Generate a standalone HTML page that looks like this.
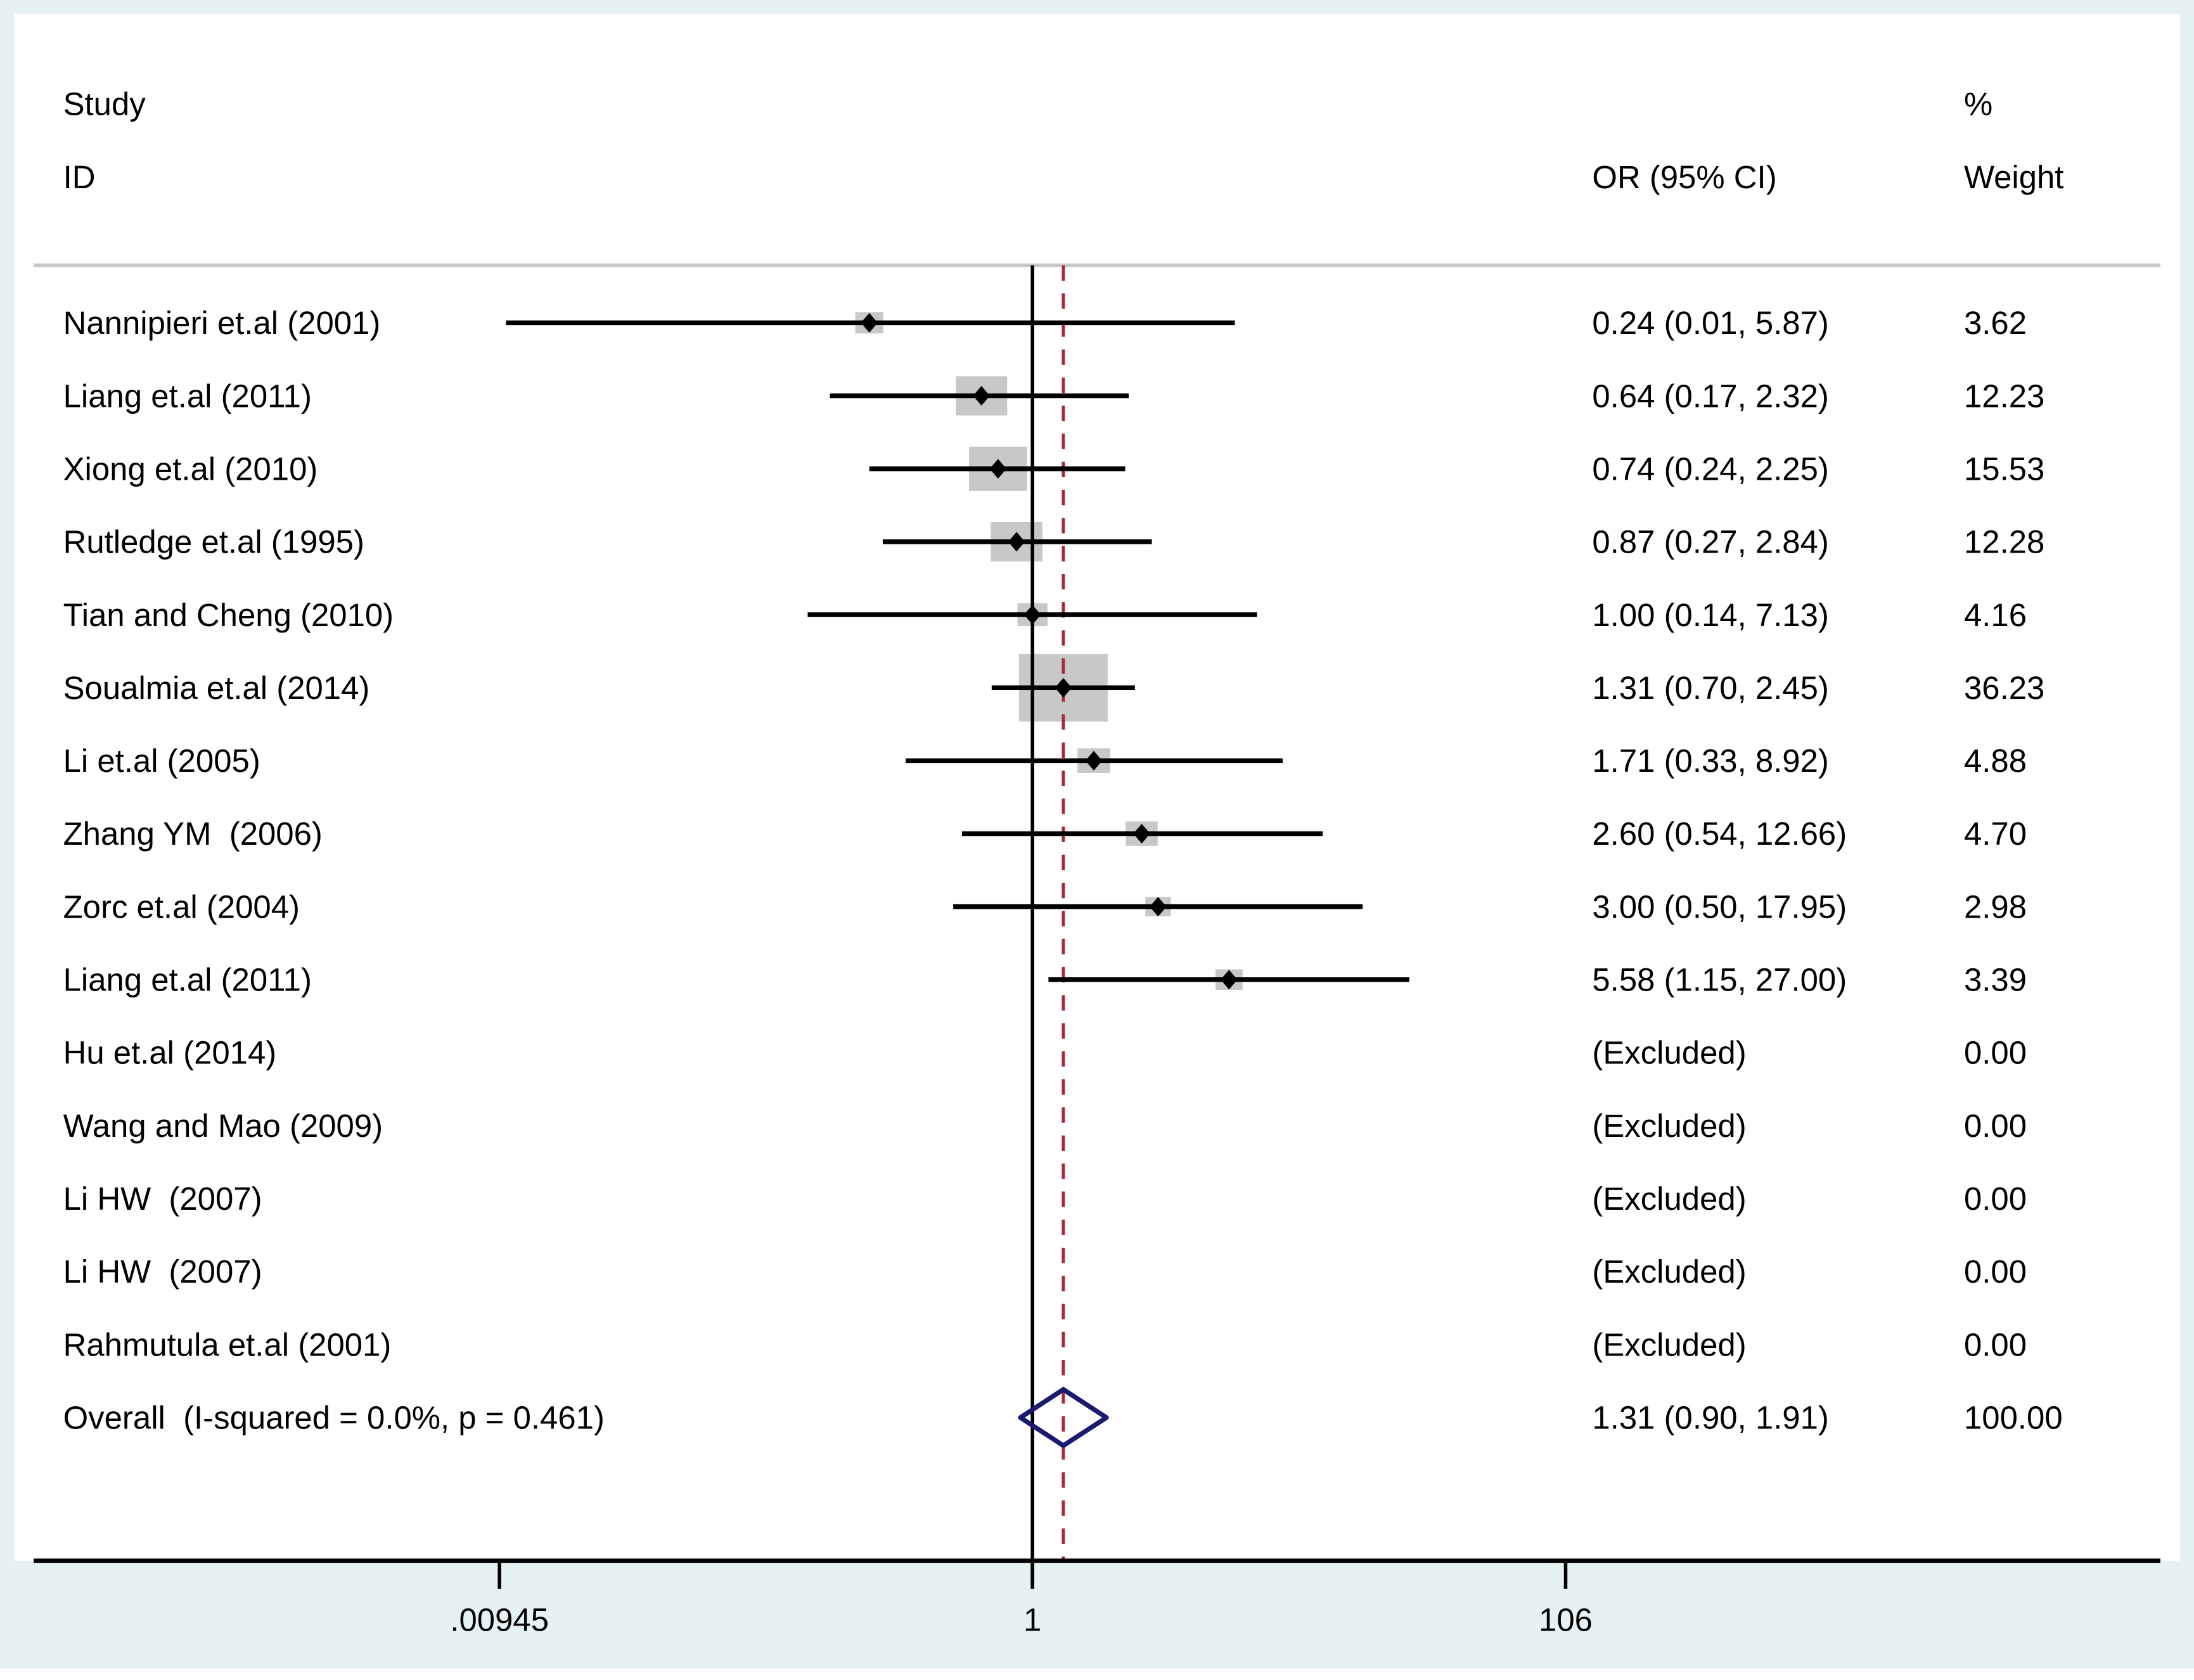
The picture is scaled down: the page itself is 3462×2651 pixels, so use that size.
<!DOCTYPE html>
<html><head><meta charset="utf-8"><style>
html,body{margin:0;padding:0;background:#e6f2f2;}
svg{display:block;}
text{font-family:"Liberation Sans",Arial,sans-serif;font-size:23px;fill:#000;white-space:pre;}
</style></head><body>
<svg id="chart" width="3462" height="2651" viewBox="0 0 1564 1197" preserveAspectRatio="none" xmlns="http://www.w3.org/2000/svg" xml:space="preserve">
<rect x="0" y="0" width="1564" height="1197" fill="#e6f2f2"/>
<rect x="0" y="1189" width="1564" height="8" fill="#fff"/>
<rect x="10" y="10" width="1544" height="1102" fill="#fff"/>
<line x1="24" y1="189" x2="1540" y2="189" stroke="#c8c8c8" stroke-width="2.5"/>
<text x="45" y="82">Study</text>
<text x="45" y="134">ID</text>
<text x="1135" y="134">OR (95% CI)</text>
<text x="1400" y="82">%</text>
<text x="1400" y="134">Weight</text>
<g id="marks"></g>
</svg>
<script>
const studies=["Nannipieri et.al (2001)","Liang et.al (2011)","Xiong et.al (2010)","Rutledge et.al (1995)","Tian and Cheng (2010)","Soualmia et.al (2014)","Li et.al (2005)","Zhang YM  (2006)","Zorc et.al (2004)","Liang et.al (2011)","Hu et.al (2014)","Wang and Mao (2009)","Li HW  (2007)","Li HW  (2007)","Rahmutula et.al (2001)"];
const orVals=[0.24,0.64,0.74,0.87,1.00,1.31,1.71,2.60,3.00,5.58,null,null,null,null,null];
const lowVals=[0.01,0.17,0.24,0.27,0.14,0.70,0.33,0.54,0.50,1.15,null,null,null,null,null];
const highVals=[5.87,2.32,2.25,2.84,7.13,2.45,8.92,12.66,17.95,27.00,null,null,null,null,null];
const weights=[3.62,12.23,15.53,12.28,4.16,36.23,4.88,4.70,2.98,3.39,0,0,0,0,0];
const overall=[1.31,0.90,1.91];
const overallLabel="Overall  (I-squared = 0.0%, p = 0.461)";
const tickVals=[0.00945,1,106];
const tickLabels=[".00945","1","106"];

const NS="http://www.w3.org/2000/svg";
const g=document.getElementById('marks');
const xs=v=>736+81.5*Math.log(v);
const ys=i=>230+52*i;
function mk(tag,attrs,txt){const e=document.createElementNS(NS,tag);for(const k in attrs)e.setAttribute(k,attrs[k]);if(txt!==undefined)e.textContent=txt;g.appendChild(e);return e;}
const fmt=v=>v.toFixed(2);

studies.forEach((s,i)=>{
  const y=ys(i);
  let t=mk('text',{x:45,y:y+8},s);
  
  
  const ci=orVals[i]==null?"(Excluded)":fmt(orVals[i])+" ("+fmt(lowVals[i])+", "+fmt(highVals[i])+")";
  t=mk('text',{x:1135,y:y+8},ci);
  
  
  t=mk('text',{x:1400,y:y+8},fmt(weights[i]));
  
  
  if(orVals[i]!=null){
    const w=10.5*Math.sqrt(weights[i]),h=8*Math.sqrt(weights[i]);
    const b=mk('rect',{x:xs(orVals[i])-w/2,y:y-h/2,width:w,height:h,fill:'#c8c8c8'});
    
    
  }
});
let l=mk('line',{x1:736,y1:189,x2:736,y2:1132,stroke:'#000','stroke-width':2.5});


l=mk('line',{x1:xs(overall[0]),y1:189,x2:xs(overall[0]),y2:1112,stroke:'#a52a35','stroke-width':2.2,'stroke-dasharray':'11 9'});


studies.forEach((s,i)=>{
  if(orVals[i]==null)return;
  const y=ys(i);
  const c=mk('line',{x1:xs(lowVals[i]),y1:y,x2:xs(highVals[i]),y2:y,stroke:'#000','stroke-width':3.4});
  
  
  const x=xs(orVals[i]);
  const d=mk('polygon',{points:`${x},${y-7} ${x+6},${y} ${x},${y+7} ${x-6},${y}`,fill:'#000'});
  
  
});
const oy=ys(15);
let t=mk('text',{x:45,y:oy+8},overallLabel);


t=mk('text',{x:1135,y:oy+8},fmt(overall[0])+" ("+fmt(overall[1])+", "+fmt(overall[2])+")");


t=mk('text',{x:1400,y:oy+8},"100.00");


const od=mk('polygon',{points:`${xs(overall[1])},${oy} ${xs(overall[0])},${oy-20} ${xs(overall[2])},${oy} ${xs(overall[0])},${oy+20}`,fill:'none',stroke:'#1a1a6e','stroke-width':3.4,'stroke-linejoin':'round'});


l=mk('line',{x1:24,y1:1112,x2:1540,y2:1112,stroke:'#000','stroke-width':3});


tickVals.forEach((v,i)=>{
  const x=xs(v);
  const tk=mk('line',{x1:x,y1:1112,x2:x,y2:1132,stroke:'#000','stroke-width':2.5});
  
  
  const tl=mk('text',{x:x,y:1162,'text-anchor':'middle'},tickLabels[i]);
  
  
});
</script>
</body></html>
